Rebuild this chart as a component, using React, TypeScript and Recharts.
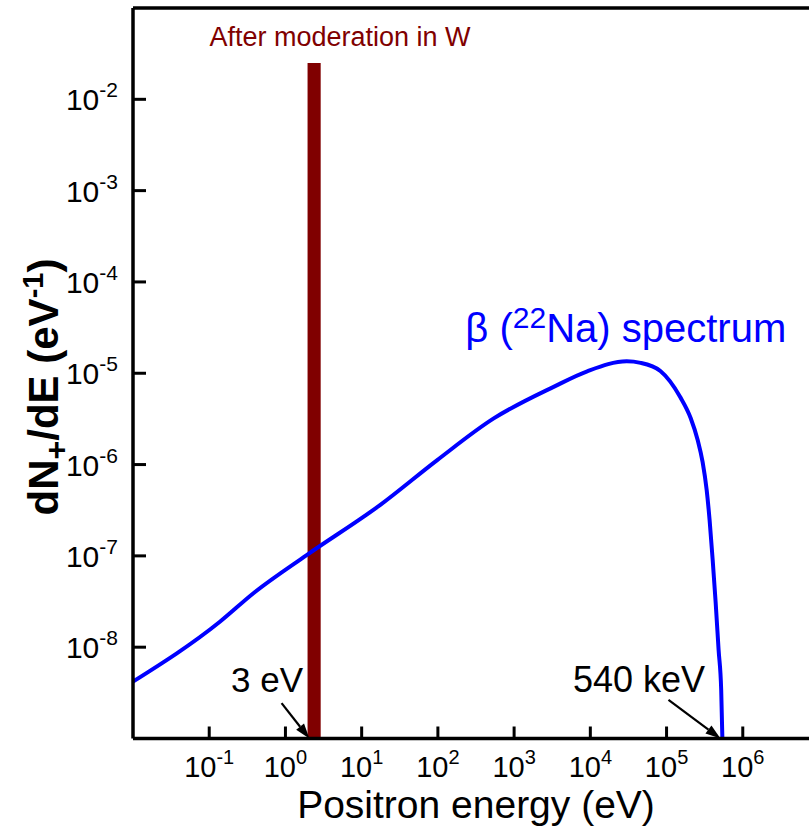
import {
  LineChart,
  Line,
  XAxis,
  YAxis,
  ReferenceLine,
  ReferenceArea,
  ReferenceDot,
  Label,
} from 'recharts';

const FONT = '"Liberation Sans", Arial, Helvetica, sans-serif';

// positron energy (eV) and dN+/dE (1/eV) along the 22Na beta spectrum
const energy = [
  0.01, 0.138, 0.38, 1.9, 17.4, 98, 540, 3300, 9100, 30000, 45700, 83000,
  151000, 207000, 256000, 297000, 336000, 367000, 403000, 441000, 482000,
  521000, 540000,
];
const dNdE = [
  4.2e-9, 1.9e-8, 3.9e-8, 1.02e-7, 3.6e-7, 1.12e-6, 3.2e-6, 7.1e-6, 1.05e-5,
  1.35e-5, 1.3e-5, 1.06e-5, 5.5e-6, 3.24e-6, 1.86e-6, 1.07e-6, 5.26e-7,
  2.47e-7, 9e-8, 3.05e-8, 9.3e-9, 3.4e-9, 1e-9,
];

const X_DOMAIN = [1e-2, 1e7];
const Y_DOMAIN = [1e-9, 1e-1];
const X_TICKS = [1e-1, 1e0, 1e1, 1e2, 1e3, 1e4, 1e5, 1e6];
const Y_TICKS = [1e-8, 1e-7, 1e-6, 1e-5, 1e-4, 1e-3, 1e-2];

// moderated positrons: narrow band around a few eV
const moderatedBand = { from: 1.95, to: 2.9, top: 0.025 };

// arrows: [tail energy, tail value, tip energy, tip value]
const arrows = [
  [0.89, 2.44e-9, 2.06, 1e-9],
  [1.06e5, 2.65e-9, 5.1e5, 1e-9],
];

const data = energy.map((e, i) => ({ energy: e, value: dNdE[i] }));

const exponent = (v: number) => String(Math.round(Math.log10(v)));

const XTick = ({ x, y, payload }: any) => (
  <g>
    <line x1={x} y1={y} x2={x} y2={y - 12} stroke="#000" strokeWidth={3} />
    <text x={x} y={y + 38} textAnchor="middle" fontFamily={FONT} fontSize={29} fill="#000">
      10
      <tspan dy={-13} fontSize={20}>
        {exponent(payload.value)}
      </tspan>
    </text>
  </g>
);

const YTick = ({ x, y, payload }: any) => (
  <g>
    <line x1={x} y1={y} x2={x + 13} y2={y} stroke="#000" strokeWidth={3} />
    <text x={x - 15} y={y + 11} textAnchor="end" fontFamily={FONT} fontSize={30} fill="#000">
      10
      <tspan dy={-13} fontSize={21}>
        {exponent(payload.value)}
      </tspan>
    </text>
  </g>
);

const Arrow = ({ x1, y1, x2, y2 }: any) => {
  const a = Math.atan2(y2 - y1, x2 - x1);
  const len = 15;
  const half = 5;
  const bx = x2 - len * Math.cos(a);
  const by = y2 - len * Math.sin(a);
  const pts = [
    `${x2},${y2}`,
    `${bx + half * Math.sin(a)},${by - half * Math.cos(a)}`,
    `${bx - half * Math.sin(a)},${by + half * Math.cos(a)}`,
  ].join(' ');
  return (
    <g>
      <line x1={x1} y1={y1} x2={bx} y2={by} stroke="#000" strokeWidth={2.2} />
      <polygon points={pts} fill="#000" />
    </g>
  );
};

const textAt =
  (content: React.ReactNode, anchor: 'start' | 'middle' | 'end', size: number, color: string) =>
  ({ cx, cy }: any) => (
    <text x={cx} y={cy} textAnchor={anchor} fontFamily={FONT} fontSize={size} fill={color}>
      {content}
    </text>
  );

export default function App() {
  return (
    <div
      style={{
        position: 'fixed',
        left: 0,
        top: 0,
        width: 809,
        height: 828,
        overflow: 'hidden',
        background: '#fff',
      }}
    >
      <LineChart
        width={819}
        height={828}
        data={data}
        margin={{ top: 8, right: 0, bottom: 0, left: 0 }}
      >
        <XAxis
          dataKey="energy"
          type="number"
          scale="log"
          domain={X_DOMAIN}
          ticks={X_TICKS}
          interval={0}
          allowDataOverflow
          height={89.5}
          axisLine={{ stroke: '#000', strokeWidth: 3.5 }}
          tickLine={false}
          tickSize={0}
          tickMargin={0}
          tick={<XTick />}
        >
          <Label
            content={({ viewBox }: any) => (
              <text
                x={viewBox.x + viewBox.width / 2}
                y={viewBox.y + 79}
                textAnchor="middle"
                fontFamily={FONT}
                fontSize={39}
                fill="#000"
              >
                Positron energy (eV)
              </text>
            )}
          />
        </XAxis>
        <YAxis
          type="number"
          scale="log"
          domain={Y_DOMAIN}
          ticks={Y_TICKS}
          interval={0}
          allowDataOverflow
          width={133}
          axisLine={{ stroke: '#000', strokeWidth: 3.5 }}
          tickLine={false}
          tickSize={0}
          tickMargin={0}
          tick={<YTick />}
        >
          <Label
            content={() => (
              <text
                transform="rotate(-90)"
                x={-387}
                y={58}
                textAnchor="middle"
                fontFamily={FONT}
                fontWeight="bold"
                fontSize={42}
                fill="#000"
              >
                dN
                <tspan fontSize={32} dy={9}>
                  +
                </tspan>
                <tspan dy={-9}>/dE (eV</tspan>
                <tspan fontSize={29} dy={-15}>
                  -1
                </tspan>
                <tspan dy={15}>)</tspan>
              </text>
            )}
          />
        </YAxis>

        <ReferenceLine y={Y_DOMAIN[1]} stroke="#000" strokeWidth={3.5} />

        <ReferenceArea
          x1={moderatedBand.from}
          x2={moderatedBand.to}
          y1={Y_DOMAIN[0]}
          y2={moderatedBand.top}
          fill="#800000"
          fillOpacity={1}
          stroke="none"
        />

        <Line
          type="monotone"
          dataKey="value"
          stroke="#0000ff"
          strokeWidth={4}
          dot={false}
          isAnimationActive={false}
        />

        {arrows.map(([ex1, v1, ex2, v2], i) => (
          <ReferenceLine
            key={i}
            segment={[
              { x: ex1, y: v1 },
              { x: ex2, y: v2 },
            ]}
            shape={Arrow}
          />
        ))}

        <ReferenceDot
          x={5.2}
          y={0.0384}
          r={0}
          shape={textAt('After moderation in W', 'middle', 27, '#800000')}
        />
        <ReferenceDot
          x={229}
          y={2.2e-5}
          r={0}
          shape={textAt(
            <>
              β (<tspan dy={-14} fontSize={30}>22</tspan>
              <tspan dy={14}>Na) spectrum</tspan>
            </>,
            'start',
            40,
            '#0000ff'
          )}
        />
        <ReferenceDot x={1.7} y={3.2e-9} r={0} shape={textAt('3 eV', 'end', 35, '#000')} />
        <ReferenceDot x={43600} y={3.2e-9} r={0} shape={textAt('540 keV', 'middle', 36, '#000')} />
      </LineChart>
    </div>
  );
}
